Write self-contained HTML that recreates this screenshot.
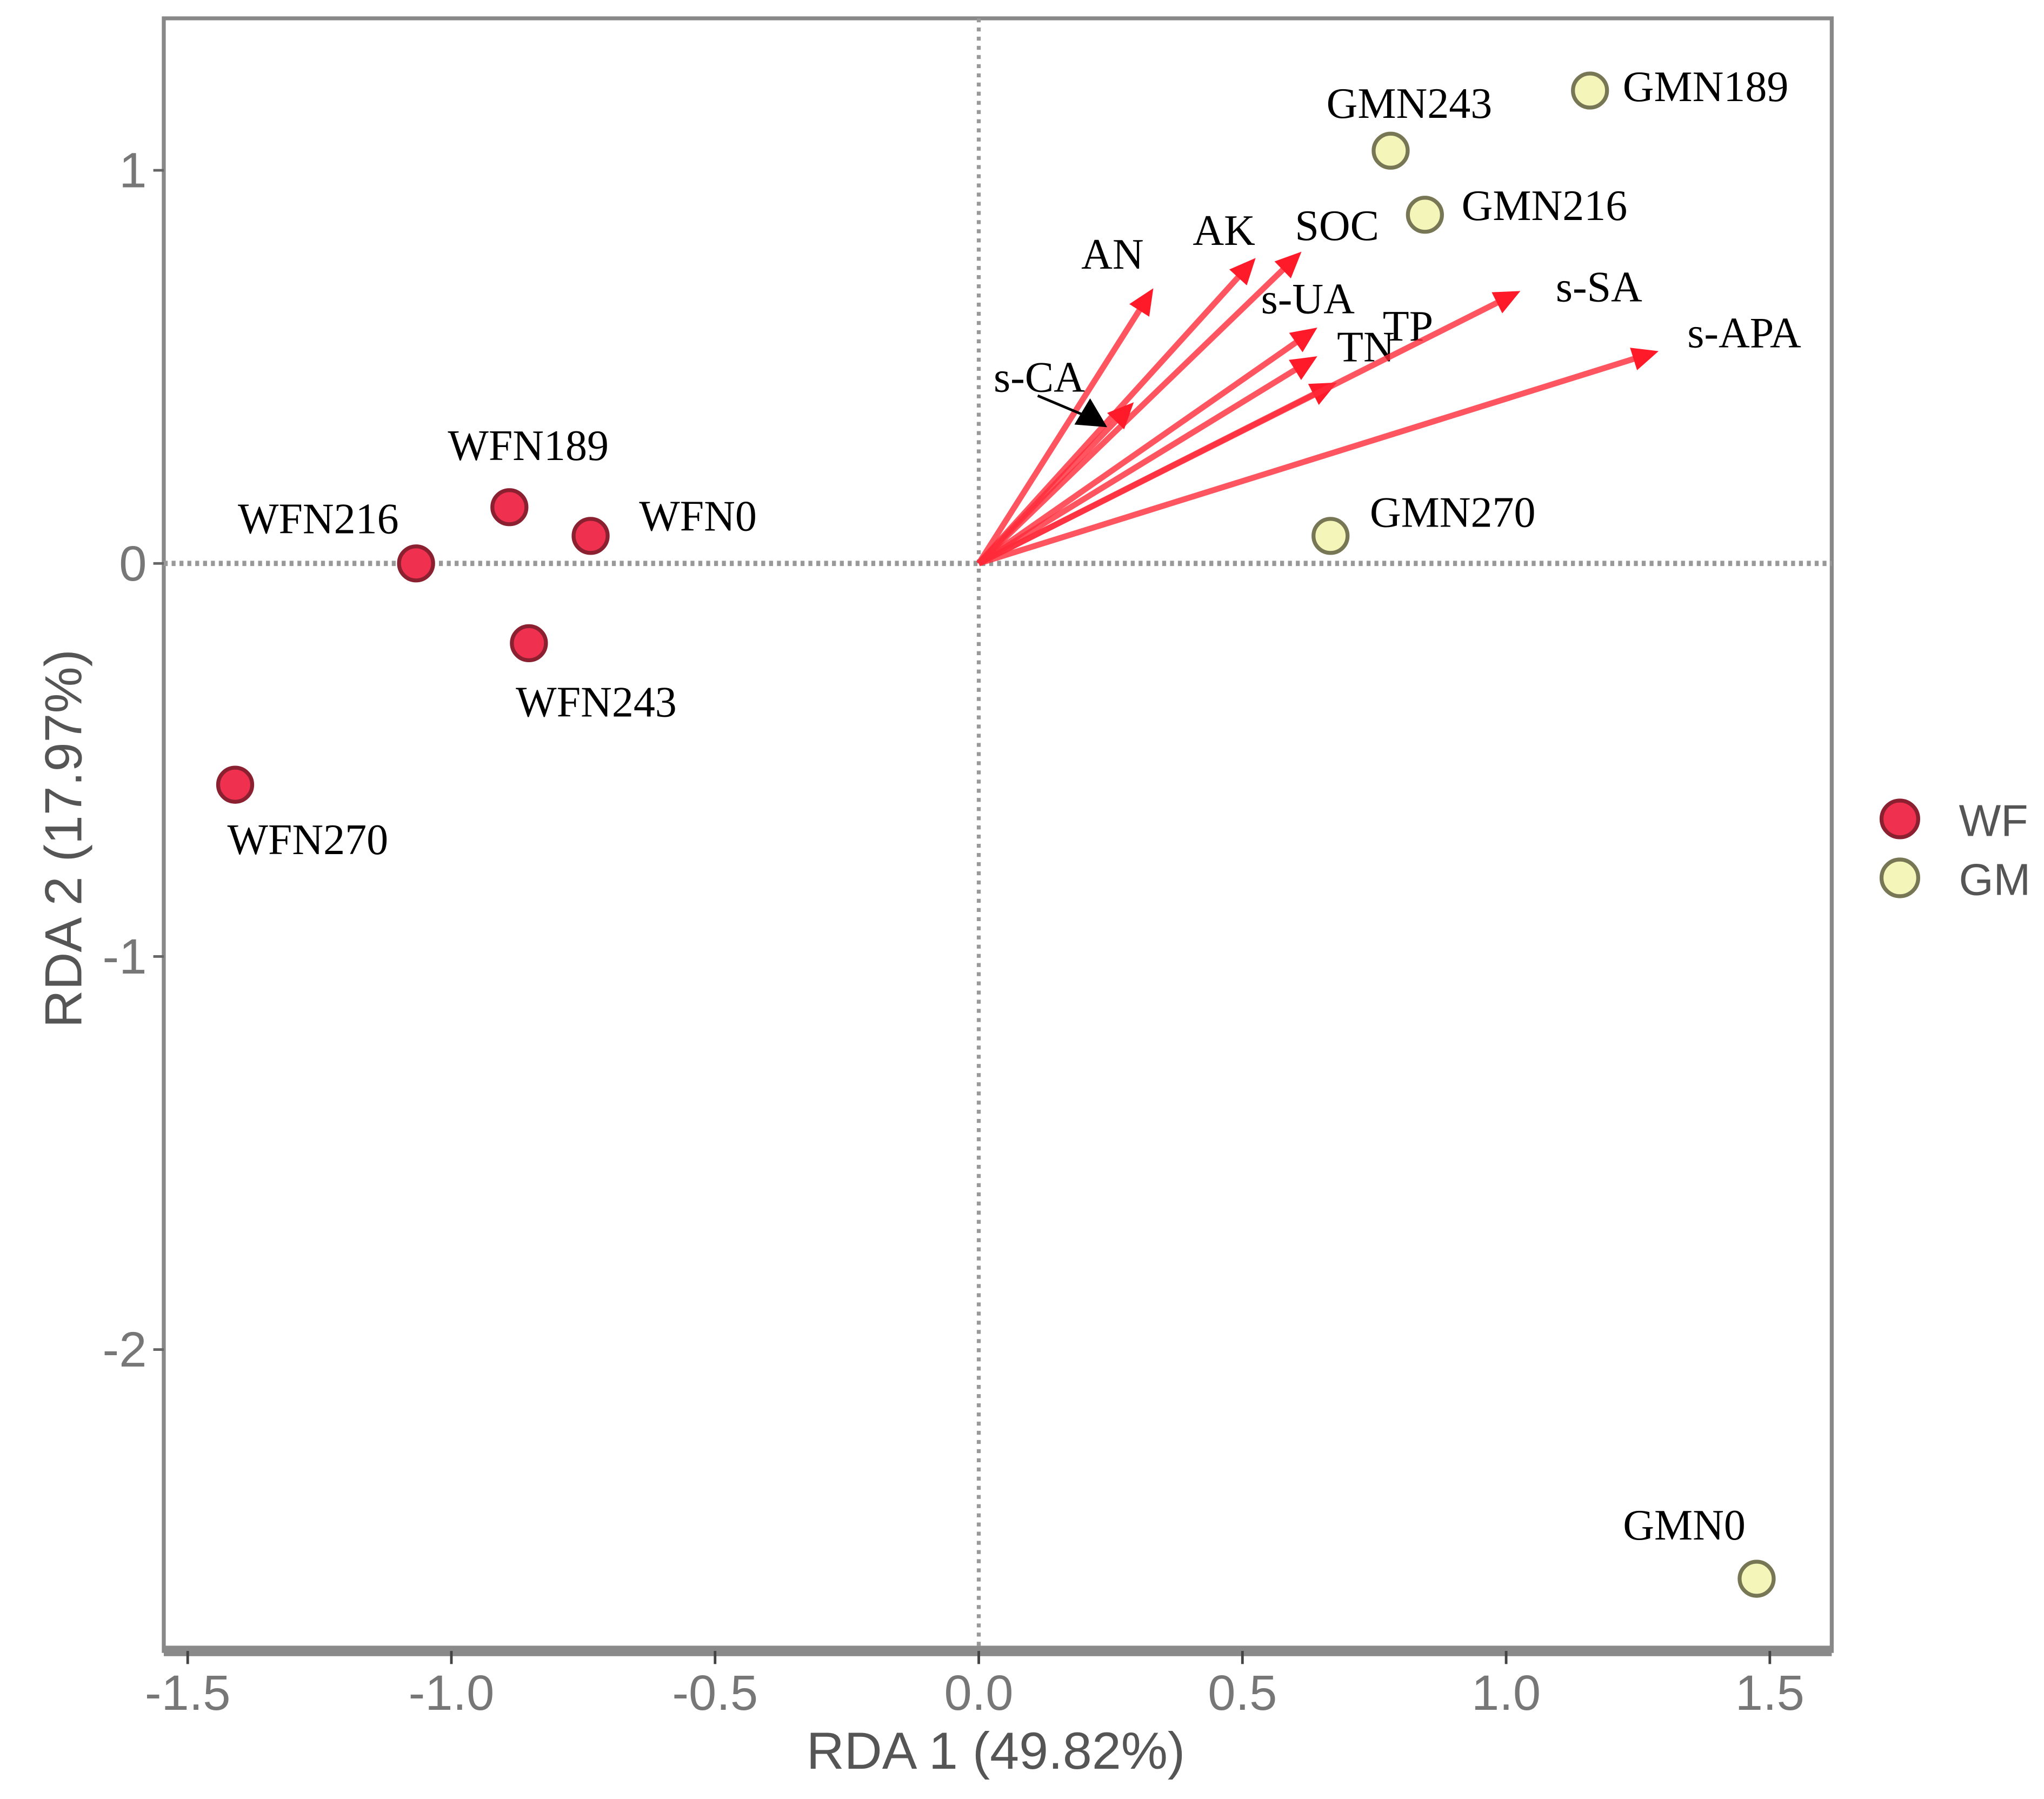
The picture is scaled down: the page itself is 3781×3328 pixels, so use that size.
<!DOCTYPE html>
<html><head><meta charset="utf-8"><style>
html,body{margin:0;padding:0;background:#fff;}
svg{display:block;}
.tick{font-family:"Liberation Sans",sans-serif;fill:#777;font-size:38px;}
.ttl{font-family:"Liberation Sans",sans-serif;fill:#555;font-size:40px;}
.lab{font-family:"Liberation Serif",serif;fill:#000;font-size:33px;}
</style></head><body>
<svg id="chart" width="3781" height="3328" viewBox="0 0 1560 1373" preserveAspectRatio="none" xmlns="http://www.w3.org/2000/svg">
<g id="plot"></g>
</svg>
<script>
const xTicks=[-1.5,-1.0,-0.5,0.0,0.5,1.0,1.5];
const xTickLabels=["-1.5","-1.0","-0.5","0.0","0.5","1.0","1.5"];
const yTicks=[1,0,-1,-2];
const yTickLabels=["1","0","-1","-2"];
const wfNames=["WFN216","WFN189","WFN0","WFN243","WFN270"];
const wfX=[-1.067,-0.89,-0.736,-0.853,-1.41];
const wfY=[0,0.143,0.07,-0.203,-0.563];
const gmNames=["GMN189","GMN243","GMN216","GMN270","GMN0"];
const gmX=[1.159,0.781,0.846,0.667,1.475];
const gmY=[1.203,1.05,0.887,0.07,-2.583];
const envNames=["AN","AK","SOC","s-UA","TN","TP","s-SA","s-APA","s-CA"];
const envX=[0.331,0.525,0.612,0.642,0.642,0.679,1.027,1.289,0.294];
const envY=[0.70,0.777,0.793,0.60,0.527,0.46,0.693,0.54,0.41];
const wfLab=[[-136,-23],[-47,-36],[37,-4],[-10,56],[-6,53]];
const gmLab=[[25,8],[-49,-25],[28,4],[30,-7],[-102,-30]];
const envLab=[[-55,-15],[-48,-10],[-5,-9],[-43,-11],[15,4],[35,-32],[27,8],[22,-3],[-107,-8]];

const L=125,R=1398,T=14,B=1260;
const X=v=>747+v*402.5;
const Y=v=>430-v*300;
const NS="http://www.w3.org/2000/svg";
const g=document.getElementById('plot');
function mk(t,a,p){const e=document.createElementNS(NS,t);for(const k in a)e.setAttribute(k,a[k]);(p||g).appendChild(e);return e;}

let fr=mk('rect',{x:L,y:T,width:R-L,height:B-T,fill:'none',stroke:'#888','stroke-width':3});


let band=mk('rect',{x:L,y:B-4,width:R-L,height:8,fill:'#8a8a8a'});


let zh=mk('line',{x1:L,x2:R,y1:Y(0),y2:Y(0),stroke:'#999','stroke-width':4,'stroke-dasharray':'3 3'});


let zv=mk('line',{x1:X(0),x2:X(0),y1:T,y2:B,stroke:'#999','stroke-width':3,'stroke-dasharray':'3 4'});



xTicks.forEach((v,i)=>{
  let t=mk('line',{x1:X(v),x2:X(v),y1:B,y2:B+10,stroke:'#444','stroke-width':2});
  
  
  let s=mk('text',{x:X(v),y:B+45,'text-anchor':'middle',class:'tick'});
  s.textContent=xTickLabels[i];
  
  
});
yTicks.forEach((v,i)=>{
  let t=mk('line',{x1:L-8,x2:L,y1:Y(v),y2:Y(v),stroke:'#666','stroke-width':2});
  
  
  let s=mk('text',{x:L-13,y:Y(v)+13,'text-anchor':'end',class:'tick'});
  s.textContent=yTickLabels[i];
  
  
});
let xt=mk('text',{x:760,y:1350,'text-anchor':'middle',class:'ttl'});
xt.textContent='RDA 1 (49.82%)';


let yt=mk('text',{x:62,y:640,'text-anchor':'middle',class:'ttl',transform:'rotate(-90 62 640)'});
yt.textContent='RDA 2 (17.97%)';



envNames.forEach((n,i)=>{
  const x2=X(envX[i]),y2=Y(envY[i]),x1=X(0),y1=Y(0);
  const a=Math.atan2(y2-y1,x2-x1);
  let ln=mk('line',{x1:x1,y1:y1,x2:x2-10*Math.cos(a),y2:y2-10*Math.sin(a),stroke:'#ff2a3a','stroke-width':4.5,'stroke-opacity':0.8});
  
  
  const hx=x2-20*Math.cos(a),hy=y2-20*Math.sin(a),px=-Math.sin(a)*9,py=Math.cos(a)*9;
  let hd=mk('polygon',{points:`${x2},${y2} ${hx+px},${hy+py} ${hx-px},${hy-py}`,fill:'#ff1a2a'});
  
  
  let t=mk('text',{x:x2+envLab[i][0],y:y2+envLab[i][1],class:'lab'});
  t.textContent=n;
  
  
});
let pl=mk('line',{x1:792,y1:302,x2:830,y2:318,stroke:'#000','stroke-width':2});


let ph=mk('polygon',{points:'845,326 820,324 832,304',fill:'#000'});



function pts(names,xs,ys,fill,stroke,off){
  names.forEach((n,i)=>{
    let c=mk('circle',{cx:X(xs[i]),cy:Y(ys[i]),r:13,fill:fill,stroke:stroke,'stroke-width':3});
    
    
    let t=mk('text',{x:X(xs[i])+off[i][0],y:Y(ys[i])+off[i][1],class:'lab'});
    t.textContent=n;
    
    
  });
}
pts(wfNames,wfX,wfY,'#f0304f','#8a2030',wfLab);
pts(gmNames,gmX,gmY,'#f4f5b8','#777755',gmLab);

let l1=mk('circle',{cx:1450,cy:625,r:14,fill:'#f0304f',stroke:'#8a2030','stroke-width':3});


let l1t=mk('text',{x:1495,y:638,class:'ttl',style:'font-size:34px'});
l1t.textContent='WF';


let l2=mk('circle',{cx:1450,cy:670,r:14,fill:'#f4f5b8',stroke:'#777755','stroke-width':3});


let l2t=mk('text',{x:1495,y:683,class:'ttl',style:'font-size:34px'});
l2t.textContent='GM';


</script>
</body></html>
